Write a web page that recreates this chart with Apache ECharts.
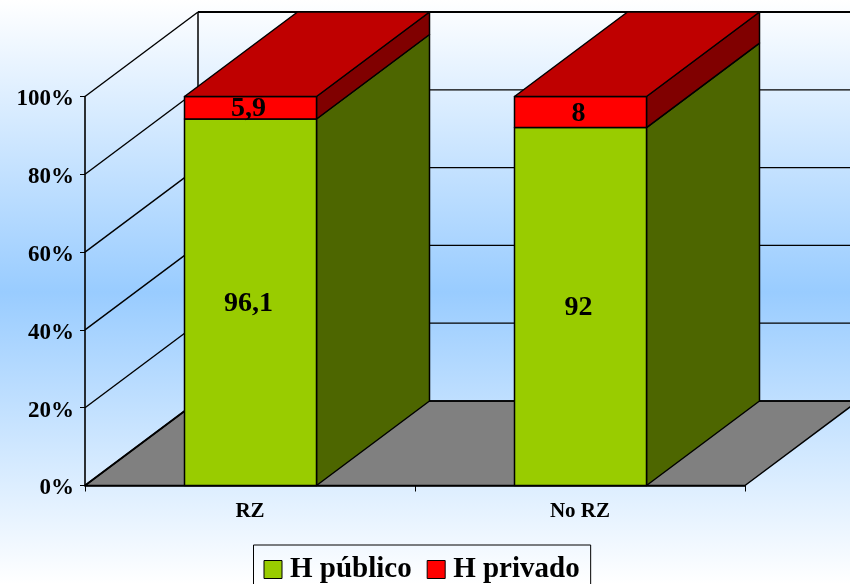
<!DOCTYPE html>
<html>
<head>
<meta charset="utf-8">
<style>html,body{margin:0;padding:0;overflow:hidden}#chart{width:850px;height:584px}</style>
<script src="https://cdn.jsdelivr.net/npm/echarts@6/dist/echarts.min.js"></script>
</head>
<body>
<div id="chart"></div>
<script>
const categories = ['RZ', 'No RZ'];
const publicValues = [96.1, 92];
const publicLabels = ['96,1', '92'];
const privateValues = [5.9, 8];
const privateLabels = ['5,9', '8'];
const yTicks = [0, 20, 40, 60, 80, 100];

// Oblique projection used for the pseudo-3D walls and columns
const DEPTH_X = 113;
const DEPTH_Y = -84.5;
const BAR_WIDTH = 132;
const SERIF = '"Liberation Serif", serif';
const INK = '#000';

const totals = categories.map((_, i) => publicValues[i] + privateValues[i]);
const share = (v, i) => v / totals[i] * 100;

function poly(points, fill, lineWidth) {
  return {
    type: 'polygon',
    shape: { points },
    style: { fill, stroke: INK, lineWidth: lineWidth === undefined ? 1.5 : lineWidth, lineJoin: 'round' }
  };
}
function line(a, b, lineWidth) {
  return {
    type: 'line',
    shape: { x1: a[0], y1: a[1], x2: b[0], y2: b[1] },
    style: { stroke: INK, lineWidth: lineWidth }
  };
}
const back = p => [p[0] + DEPTH_X, p[1] + DEPTH_Y];

// Floor, side wall and back wall, one call per y tick
function renderWall(params, api) {
  const tick = api.value(0);
  const sys = params.coordSys;
  const y = api.coord([0, tick])[1];
  const left = [sys.x, y];
  const right = [sys.x + sys.width, y];
  const children = [];
  if (tick === 0) {
    children.push(poly([left, right, back(right), back(left)], '#808080', 1.5));
    const topY = api.coord([0, yTicks[yTicks.length - 1]])[1];
    children.push(line(back(left), back([sys.x, topY]), 1.5));
  }
  children.push(line(left, back(left), tick === 0 ? 2 : 1.4));
  children.push(line(back(left), back(right), tick === 100 ? 2 : 1.3));
  return { type: 'group', children };
}

// One stacked column segment: front and side faces, plus the top face for the last one
function renderSegment(params, api, colors, withTop, labels) {
  const idx = api.value(0);
  const low = api.value(1);
  const high = api.value(2);
  const cx = api.coord([idx, 0])[0];
  const xl = cx - BAR_WIDTH / 2 + 0.5;
  const xr = cx + BAR_WIDTH / 2 + 0.5;
  const y0 = api.coord([idx, low])[1];
  const y1 = api.coord([idx, high])[1];
  const fl = [xl, y0], fr = [xr, y0], tl = [xl, y1], tr = [xr, y1];
  const children = [
    poly([fr, back(fr), back(tr), tr], colors.side),
    poly([fl, fr, tr, tl], colors.front)
  ];
  if (withTop) children.push(poly([tl, tr, back(tr), back(tl)], colors.top));
  children.push({
    type: 'text',
    style: {
      text: labels[idx],
      x: cx - 1.5,
      y: (y0 + y1) / 2 + 1.5,
      textAlign: 'center',
      textVerticalAlign: 'middle',
      fontFamily: SERIF,
      fontWeight: 'bold',
      fontSize: 28,
      fill: INK
    }
  });
  return { type: 'group', children };
}

const publicData = categories.map((_, i) => [i, 0, share(publicValues[i], i)]);
const privateData = categories.map((_, i) => [i, share(publicValues[i], i), 100]);

const chart = echarts.init(document.getElementById('chart'), null, { renderer: 'canvas' });
chart.setOption({
  animation: false,
  backgroundColor: {
    type: 'linear', x: 0, y: 0, x2: 0, y2: 1,
    colorStops: [
      { offset: 0, color: '#ffffff' },
      { offset: 0.5, color: '#99ccff' },
      { offset: 1, color: '#ffffff' }
    ]
  },
  grid: { left: 85, top: 96.5, width: 660, height: 389, containLabel: false },
  legend: {
    left: 253.5,
    top: 545,
    orient: 'horizontal',
    data: ['H público', 'H privado'],
    icon: 'rect',
    itemWidth: 18,
    itemHeight: 18,
    itemGap: 15,
    padding: [10, 11, 8, 10],
    borderColor: '#000',
    borderWidth: 1,
    itemStyle: { borderColor: '#000', borderWidth: 1 },
    textStyle: {
      fontFamily: SERIF,
      fontWeight: 'bold',
      fontSize: 29,
      color: INK,
      padding: [0, 0, 0, 3]
    }
  },
  xAxis: {
    type: 'category',
    data: categories,
    axisLine: { lineStyle: { color: INK, width: 1.6 } },
    axisTick: { show: true, length: 6, lineStyle: { color: INK, width: 1 } },
    axisLabel: {
      margin: 16,
      fontFamily: SERIF,
      fontWeight: 'bold',
      fontSize: 21,
      color: '#000'
    },
    z: 5
  },
  yAxis: {
    type: 'value',
    min: 0,
    max: 100,
    interval: 20,
    splitLine: { show: false },
    axisLine: { show: true, lineStyle: { color: INK, width: 1.6 } },
    axisTick: { show: true, length: 5, lineStyle: { color: INK, width: 1 } },
    axisLabel: {
      margin: 11,
      formatter: '{tick|{value}%}',
      rich: {
        tick: {
          padding: [6, 0, 0, 0],
          fontFamily: SERIF,
          fontWeight: 'bold',
          fontSize: 23,
          color: '#000'
        }
      }
    },
    z: 5
  },
  series: [
    {
      type: 'custom',
      name: 'walls',
      z: 1,
      silent: true,
      clip: false,
      data: yTicks.map(t => [t]),
      encode: { x: [], y: 0 },
      renderItem: renderWall
    },
    {
      type: 'custom',
      name: 'H público',
      z: 6,
      clip: false,
      itemStyle: { color: '#99cc00' },
      data: publicData,
      encode: { x: 0, y: [1, 2] },
      renderItem: (p, a) => renderSegment(p, a, { front: '#99cc00', side: '#4d6600' }, false, publicLabels)
    },
    {
      type: 'custom',
      name: 'H privado',
      z: 7,
      clip: false,
      itemStyle: { color: '#ff0000' },
      data: privateData,
      encode: { x: 0, y: [1, 2] },
      renderItem: (p, a) => renderSegment(p, a, { front: '#ff0000', side: '#800000', top: '#bf0000' }, true, privateLabels)
    }
  ]
});
</script>
</body>
</html>
